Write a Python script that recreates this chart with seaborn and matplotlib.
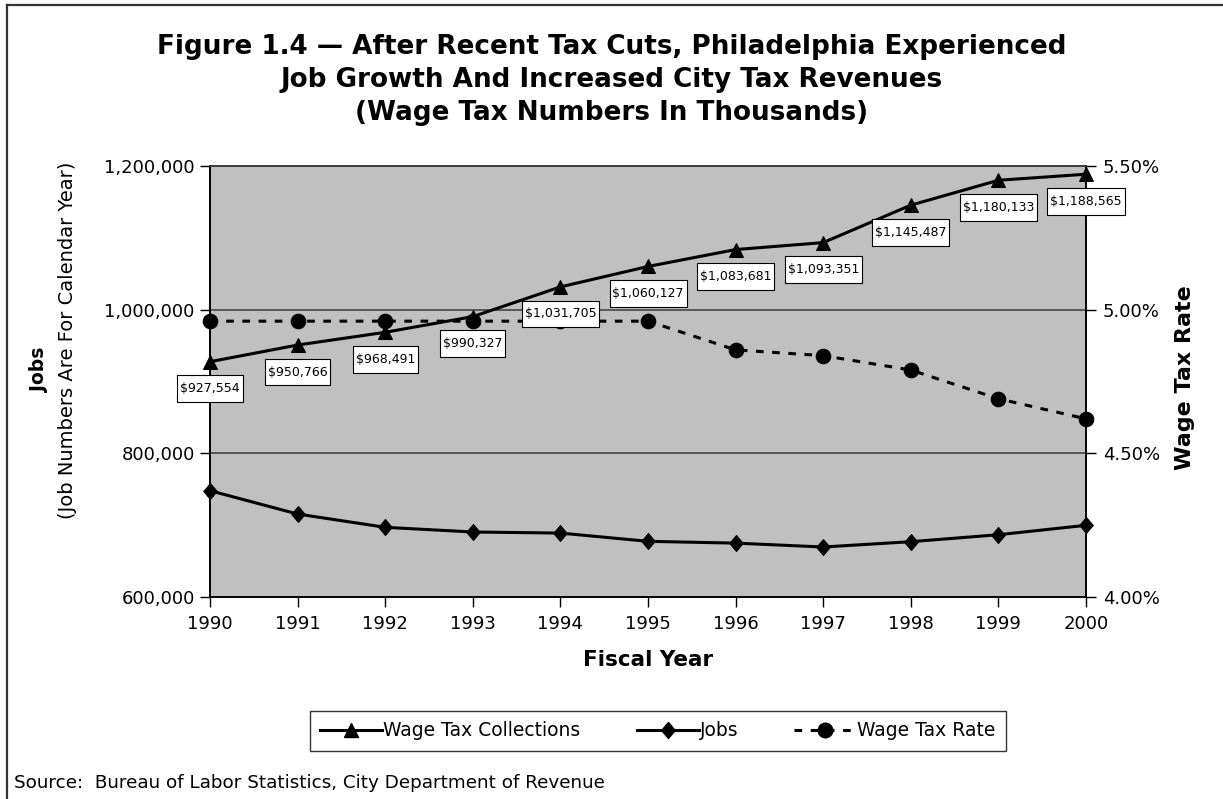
import matplotlib
matplotlib.use("Agg")
import matplotlib.pyplot as plt
import matplotlib.ticker as mticker
from matplotlib.lines import Line2D
from matplotlib.path import Path
import numpy as np
import pandas as pd
import seaborn as sns

# ---- data -------------------------------------------------------------
years = [1990, 1991, 1992, 1993, 1994, 1995, 1996, 1997, 1998, 1999, 2000]
wage_tax_collections = [927554, 950766, 968491, 990327, 1031705, 1060127,
                        1083681, 1093351, 1145487, 1180133, 1188565]
jobs = [748000, 715500, 697000, 690500, 689000, 677500,
        675000, 669600, 677000, 686700, 699800]
wage_tax_rate = [4.96, 4.96, 4.96, 4.96, 4.96, 4.96,
                 4.86, 4.84, 4.79, 4.69, 4.62]

title = ("Figure 1.4 \u2014 After Recent Tax Cuts, Philadelphia Experienced\n"
         "Job Growth And Increased City Tax Revenues\n"
         "(Wage Tax Numbers In Thousands)")
source = "Source:  Bureau of Labor Statistics, City Department of Revenue"

df = pd.DataFrame({"year": years, "collections": wage_tax_collections,
                   "jobs": jobs, "rate": wage_tax_rate})

# ---- figure -----------------------------------------------------------
plt.rcParams["font.family"] = ["DejaVu Sans"]
fig = plt.figure(figsize=(12.23, 7.99), dpi=100)
ax1 = fig.add_axes([210 / 1223, 1 - 597 / 799, 876 / 1223, 431 / 799])
ax1.set_facecolor("#c0c0c0")
ax2 = ax1.twinx()

diamond = [(0, 1), (0.85, 0), (0, -1), (-0.85, 0), (0, 1)]
line_kw = dict(color="black", linewidth=2.2, markeredgecolor="black",
               markerfacecolor="black", legend=False, clip_on=False)

sns.lineplot(data=df, x="year", y="collections", marker="^", markersize=10.5,
             ax=ax1, zorder=3, **line_kw)
sns.lineplot(data=df, x="year", y="jobs", marker=diamond, markersize=11.5,
             ax=ax1, zorder=3, **line_kw)
sns.lineplot(data=df, x="year", y="rate", marker="o", markersize=10.5,
             linestyle=(0, (2.5, 2.8)), ax=ax2, zorder=3, **line_kw)

ax1.set_xlim(1990, 2000)
ax1.set_ylim(600000, 1200000)
ax2.set_ylim(4.0, 5.5)
ax1.set_xticks(years)
ax1.set_yticks([600000, 800000, 1000000, 1200000])
ax2.set_yticks([4.0, 4.5, 5.0, 5.5])
ax1.yaxis.set_major_formatter(mticker.FuncFormatter(lambda v, p: f"{v:,.0f}"))
ax2.yaxis.set_major_formatter(mticker.FuncFormatter(lambda v, p: f"{v:.2f}%"))

ax1.grid(axis="y", color="#3c3c3c", linewidth=1.1)
ax1.grid(axis="x", visible=False)
ax1.set_axisbelow(True)

for ax in (ax1, ax2):
    for s in ax.spines.values():
        s.set_color("black")
        s.set_linewidth(1.2)
    ax.spines["top"].set_color("#3c3c3c")
    ax.tick_params(labelsize=13, length=7, width=1, color="black",
                   direction="out", pad=4)
ax1.set_xlabel("")
ax1.set_ylabel("")
ax2.set_ylabel("")
ax1.tick_params(axis="x", pad=6)
ax2.tick_params(axis="y", pad=5)

# value labels for collections
def label_box(x0, y0, width, height, mutation_size):
    px = 0.22 * mutation_size
    py = 0.55 * mutation_size
    x0, y0 = x0 - px, y0 - py
    x1, y1 = x0 + width + 2 * px, y0 + height + 2 * py
    return Path([(x0, y0), (x1, y0), (x1, y1), (x0, y1), (x0, y0)],
                closed=True)

for yr, val in zip(years, wage_tax_collections):
    ax2.annotate(f"${val:,.0f}", xy=(yr, val), xycoords=ax1.transData,
                 xytext=(0, -27), textcoords="offset pixels",
                 ha="center", va="center", fontsize=9, zorder=10,
                 annotation_clip=False,
                 bbox=dict(boxstyle=label_box, facecolor="white",
                           edgecolor="black", linewidth=0.8))

# ---- titles and axis texts --------------------------------------------
fig.text(0.5, 1 - 80 / 799, title, ha="center", va="center",
         fontsize=18.9, fontweight="bold", linespacing=1.36)
fig.text(648 / 1223, 1 - 660 / 799, "Fiscal Year", ha="center", va="center",
         fontsize=15.5, fontweight="bold")
fig.text(40 / 1223, 1 - 370 / 799, "Jobs", rotation=90, ha="center",
         va="center", fontsize=13.5, fontweight="bold")
fig.text(68 / 1223, 1 - 519 / 799, "(Job Numbers Are For Calendar Year)",
         rotation=90, ha="center", va="bottom", fontsize=14)
fig.text(1185 / 1223, 1 - 378 / 799, "Wage Tax Rate", rotation=90,
         ha="center", va="center", fontsize=16, fontweight="bold")
fig.text(14 / 1223, 1 - 783 / 799, source, ha="left", va="center",
         fontsize=13.2)

# ---- legend -----------------------------------------------------------
handles = [
    Line2D([], [], color="black", lw=2.2, marker="^", ms=10.5),
    Line2D([], [], color="black", lw=2.2, marker=diamond, ms=11.5),
    Line2D([], [], color="black", lw=2.2, marker="o", ms=10.5,
           linestyle=(0, (2.5, 2.8))),
]
leg = fig.legend(handles, ["Wage Tax Collections", "Jobs", "Wage Tax Rate"],
                 loc="center", bbox_to_anchor=(658 / 1223, 1 - 731 / 799),
                 ncol=3, fontsize=13.5, frameon=True, fancybox=False,
                 edgecolor="black", handlelength=3.3, columnspacing=3.0,
                 handletextpad=0.05, borderpad=0.55)
leg.get_frame().set_linewidth(1.0)

# ---- outer frame (top and left edges) ----------------------------------
fig.add_artist(Line2D([7 / 1223, 1], [1 - 5 / 799, 1 - 5 / 799],
                      transform=fig.transFigure, color="#333333", lw=1.6))
fig.add_artist(Line2D([7 / 1223, 7 / 1223], [0, 1 - 5 / 799],
                      transform=fig.transFigure, color="#333333", lw=1.6))

fig.savefig("out.png", dpi=100)
